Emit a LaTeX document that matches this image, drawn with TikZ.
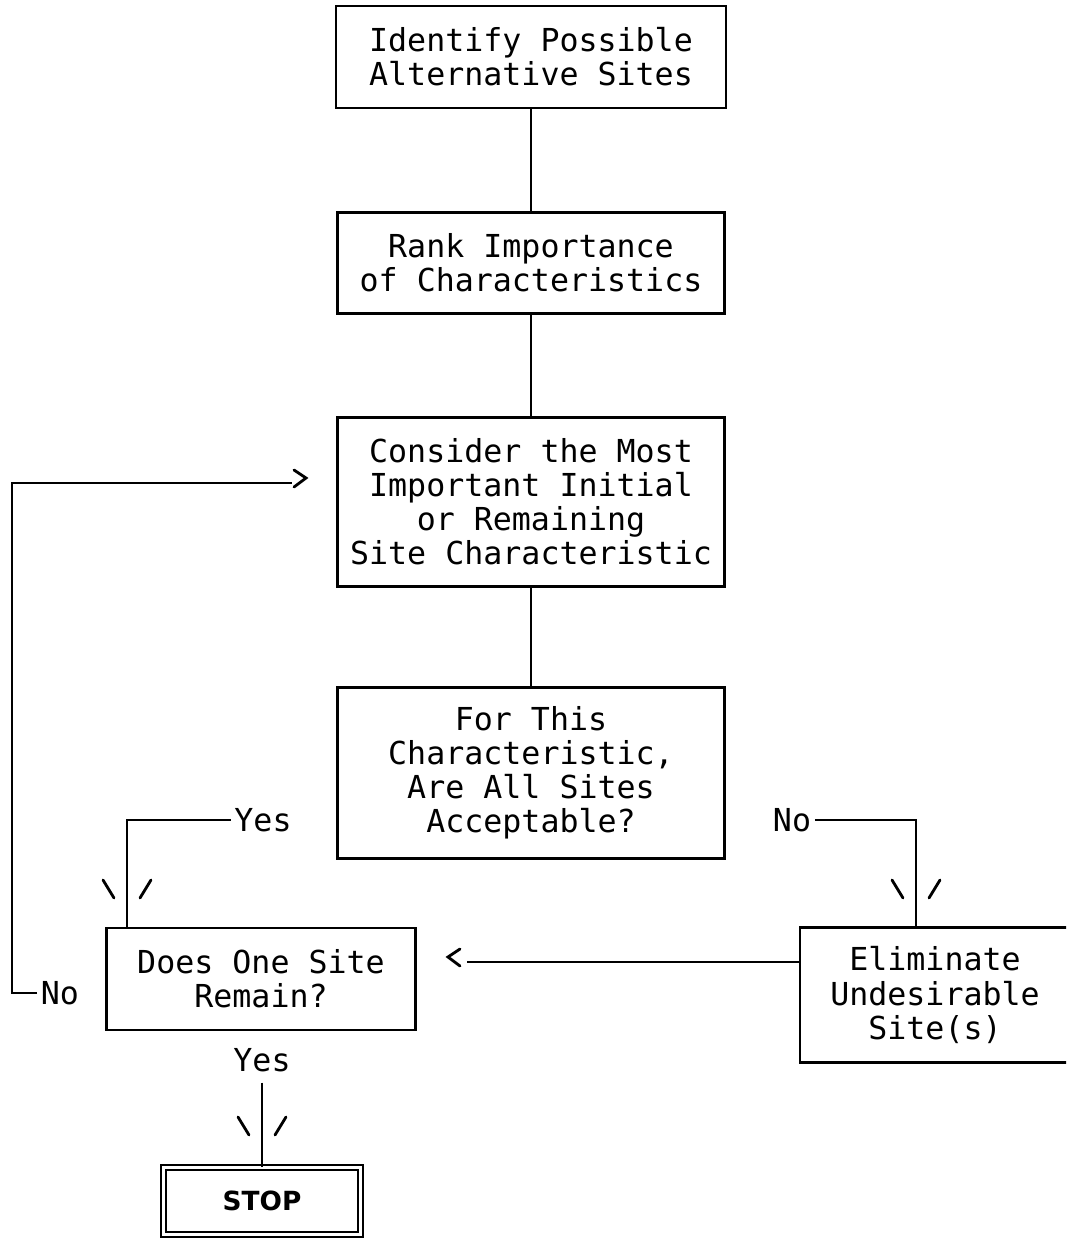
\documentclass[tikz,border=0pt]{standalone}
\usepackage{fontspec}
\setmonofont{DejaVu Sans Mono}
\newfontfamily\stopfont{DejaVu Sans}
\usetikzlibrary{positioning}

\begin{document}
\begin{tikzpicture}[x=0.02cm, y=-0.02cm,
  every node/.style={font=\ttfamily\fontsize{18}{19.4}\selectfont},
  box/.style={draw, line width=1.5pt, align=center, inner sep=0pt},
  tag/.style={inner sep=2pt},
  wire/.style={line width=1.5pt},
  barb/.style={line width=1.6pt, line cap=round}]
  \useasboundingbox (0,0) rectangle (1066,1240);
  \clip (0,0) rectangle (1066,1240);
  % boxes of the main column
  \node[box, minimum width=7.8cm, minimum height=2.04cm] (ident) at (531,57) {Identify Possible\\Alternative Sites};
  \node[box, minimum width=7.74cm, minimum height=2.02cm] (rank) at (531,263) {Rank Importance\\of Characteristics};
  \node[box, minimum width=7.74cm, minimum height=3.38cm] (consider) at (531,502) {Consider the Most\\Important Initial\\or Remaining\\Site Characteristic};
  \node[box, minimum width=7.74cm, minimum height=3.42cm] (forthis) at (531,773) {For This\\Characteristic,\\Are All Sites\\Acceptable?};
  \node[box, minimum width=6.18cm, minimum height=2.04cm] (remain) at (261,979) {Does One Site\\Remain?};
  \node[box, minimum width=5.4cm, minimum height=2.7cm] (elim) at (935,995) {Eliminate\\Undesirable\\Site(s)};
  \node[box, double, line width=1pt, double distance=1.7pt, minimum width=3.94cm, minimum height=1.34cm,
        font=\stopfont\bfseries\fontsize{15}{17}\selectfont] (stop) at (262,1201) {STOP};
  % answers
  \node[tag] (yesL) at (263,820) {Yes};
  \node[tag] (noR) at (792,820) {No};
  \node[tag] (noL) at (60,993) {No};
  \node[tag] (yesS) at (262,1060) {Yes};
  \coordinate (loopTop) at (12,483);
  \coordinate (gtTip) at (292,483);
  \coordinate (ltTip) at (467,962);
  \coordinate (yesIn) at (127,928);
  \coordinate (noIn) at (916,928);
  % connectors
  \draw[wire] (ident) -- (rank);
  \draw[wire] (rank) -- (consider);
  \draw[wire] (consider) -- (forthis);
  \draw[wire] (yesL.west) -| (yesIn);
  \draw[wire] (noR.east) -| (noIn);
  \draw[wire] (noL.west) -| (loopTop) -- (gtTip);
  \draw[wire] (elim.west |- ltTip) -- (ltTip);
  \draw[wire, shorten <=4pt] (yesS.south) -- (stop.north);
  % typed arrow heads
  \foreach \x/\y in {127/928, 916/928, 262/1165}
    \draw[barb] (\x-24,\y-48) -- (\x-13,\y-30) (\x+24,\y-48) -- (\x+13,\y-30);
  \draw[barb] (294,470) -- (306,478) -- (294,487);
  \draw[barb] (460,949) -- (448,957) -- (460,966);
\end{tikzpicture}
\end{document}
